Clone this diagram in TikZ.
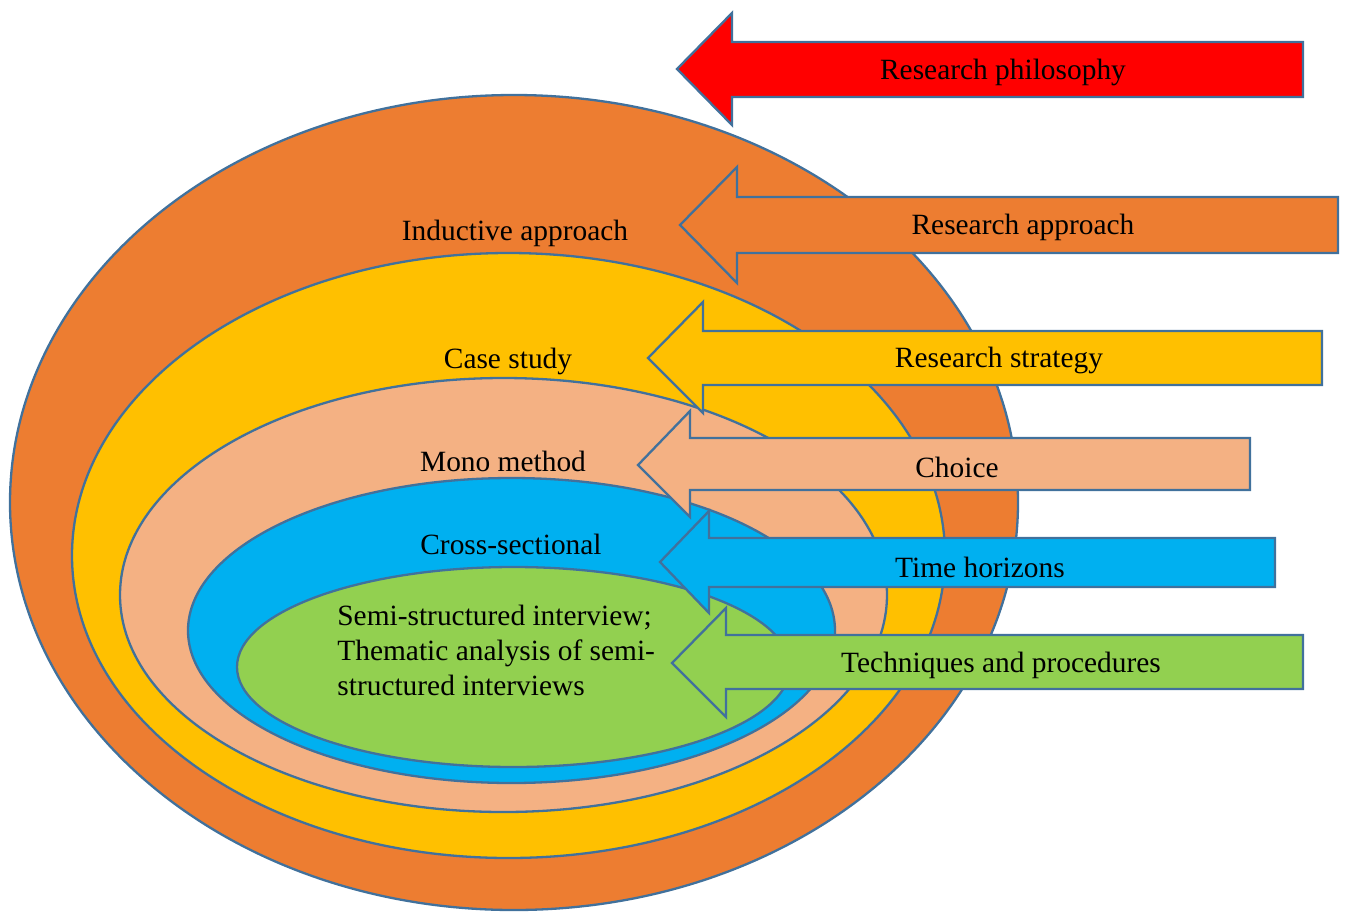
\documentclass[tikz,border=0pt]{standalone}
\usepackage{fontspec}
\setmainfont{Liberation Serif}
\definecolor{edge}{HTML}{41719C}
\definecolor{corange}{HTML}{ED7D31}
\definecolor{cyellow}{HTML}{FFC000}
\definecolor{cpeach}{HTML}{F4B183}
\definecolor{cblue}{HTML}{00B0F0}
\definecolor{cgreen}{HTML}{92D050}
\definecolor{cred}{HTML}{FF0000}
\begin{document}
\begin{tikzpicture}[x=0.5pt,y=-0.5pt,
  shape line/.style={draw=edge,line width=1.15pt,line join=miter},
  lbl/.style={font=\fontsize{14.7}{17.5}\selectfont,text=black,inner sep=0pt}]
\useasboundingbox (0,0) rectangle (1346,912);
% ellipses
\draw[shape line,fill=corange] (514,502.5) ellipse [x radius=252pt,y radius=203.75pt];
\draw[shape line,fill=cyellow] (508.5,555.5) ellipse [x radius=218.25pt,y radius=151.25pt];
\draw[shape line,fill=cpeach] (503.5,595) ellipse [x radius=191.75pt,y radius=108.5pt];
\draw[shape line,fill=cblue] (511.5,630.5) ellipse [x radius=161.75pt,y radius=76.25pt];
\draw[shape line,fill=cgreen] (513.5,667) ellipse [x radius=138.25pt,y radius=50pt];
% ellipse labels
\node[lbl] (inductive) at (515,233.5) {Inductive approach};
\node[lbl] (casestudy) at (508,361.5) {Case study};
\node[lbl] (mono) at (503,461) {Mono method};
\node[lbl] (cross) at (511,544) {Cross-sectional};
\node[lbl,align=left,anchor=west] (tech) at (337,650) {Semi-structured interview;\\Thematic analysis of semi-\\structured interviews};
% arrows
\draw[shape line,fill=cred] (677,69) -- (732,13) -- (732,42) -- (1303,42) -- (1303,97) -- (732,97) -- (732,125) -- cycle;
\node[lbl] (philo) at (1003,72.5) {Research philosophy};
\draw[shape line,fill=corange] (680,225) -- (737,167) -- (737,197) -- (1338,197) -- (1338,253) -- (737,253) -- (737,283) -- cycle;
\node[lbl] (approach) at (1023,227) {Research approach};
\draw[shape line,fill=cyellow] (648,358) -- (703,302) -- (703,331) -- (1322,331) -- (1322,385) -- (703,385) -- (703,413) -- cycle;
\node[lbl] (strategy) at (999,360.5) {Research strategy};
\draw[shape line,fill=cpeach] (638,465) -- (690,411) -- (690,438) -- (1250,438) -- (1250,490) -- (690,490) -- (690,517) -- cycle;
\node[lbl] (choice) at (957,467.5) {Choice};
\draw[shape line,fill=cblue] (660,562) -- (709,511) -- (709,538) -- (1275,538) -- (1275,587) -- (709,587) -- (709,613) -- cycle;
\node[lbl] (time) at (980,567) {Time horizons};
\draw[shape line,fill=cgreen] (672,663) -- (726,608) -- (726,635) -- (1303,635) -- (1303,689) -- (726,689) -- (726,717) -- cycle;
\node[lbl] (techproc) at (1001,665.5) {Techniques and procedures};
\end{tikzpicture}
\end{document}
